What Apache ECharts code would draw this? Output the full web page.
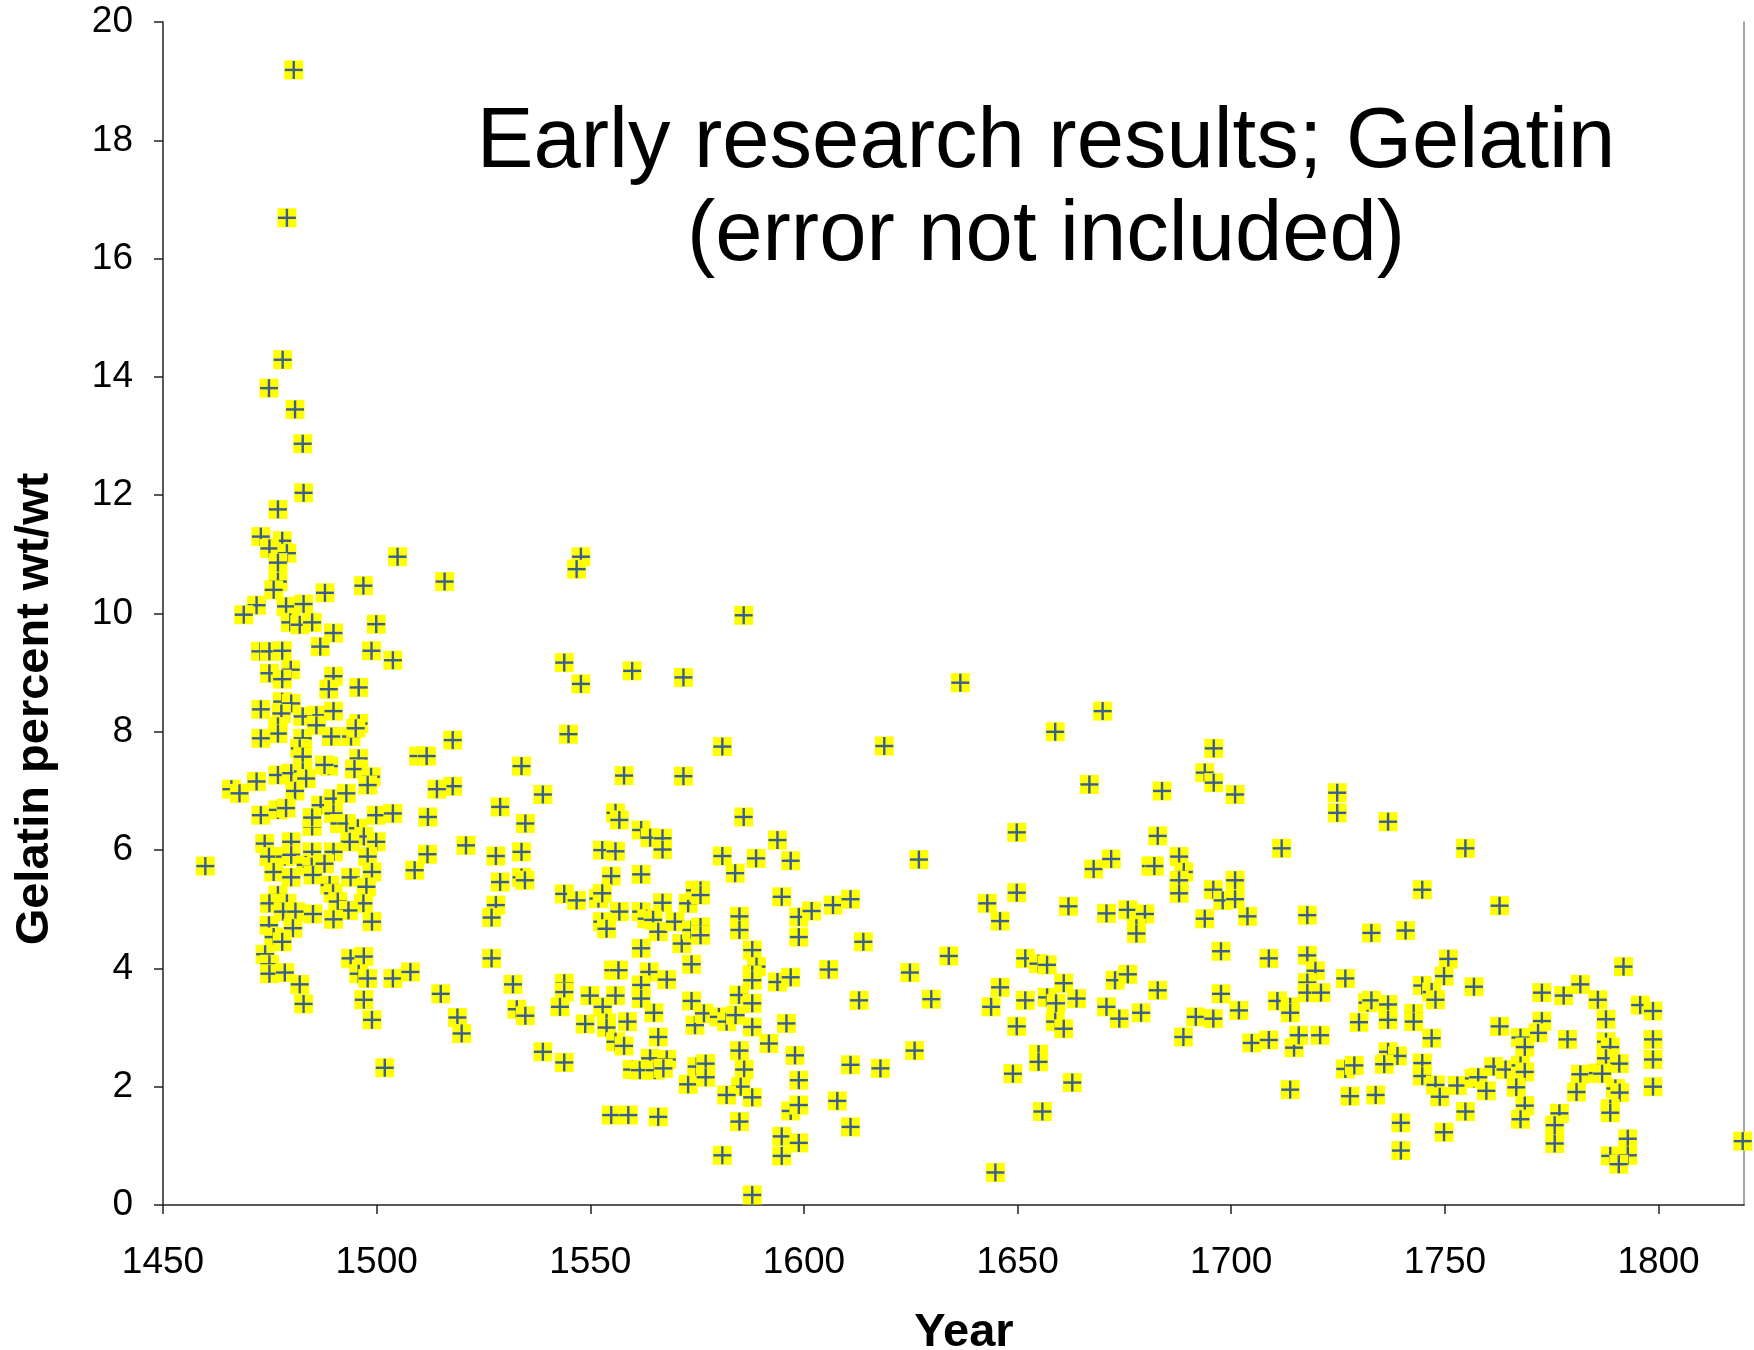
<!DOCTYPE html>
<html>
<head>
<meta charset="utf-8">
<script src="https://cdn.jsdelivr.net/npm/echarts@6/dist/echarts.min.js"></script>
<style>html,body{margin:0;padding:0;background:#fff}#c{width:1754px;height:1350px}</style>
</head>
<body>
<div id="c"></div>
<script>
const xTicks = [1450, 1500, 1550, 1600, 1650, 1700, 1750, 1800];
const yTicks = [0, 2, 4, 6, 8, 10, 12, 14, 16, 18, 20];
const chartTitle = ['Early research results; Gelatin', '(error not included)'];
const xTitle = 'Year';
const yTitle = 'Gelatin percent wt/wt';

const years = [
1480.6,1479.0,1478.0,1474.8,1480.9,1482.7,
1482.9,1476.9,1472.9,1477.9,1474.9,1479.0,1476.9,1504.9,1476.9,1475.9,1487.9,1496.9,1471.9,1468.9,
1478.8,1482.9,1479.8,1482.0,1484.9,1489.9,1499.9,1486.8,1472.8,1474.9,1477.9,1498.8,1503.8,1474.9,
1479.9,1477.9,1489.9,1488.8,1495.8,1472.9,1477.9,1480.0,1477.7,1485.9,1489.9,1482.7,1476.9,1476.9,
1495.8,1485.9,1472.9,1489.4,1494.0,1495.1,1482.7,1482.0,1482.7,1495.8,1509.8,1511.7,1488.8,1487.8,
1494.8,1476.9,1480.0,1482.7,1483.5,1498.7,1497.9,1471.9,1466.0,1467.9,1480.9,1486.9,1489.9,1492.9,
1489.9,1472.9,1476.9,1478.8,1484.9,1484.9,1491.3,1492.9,1495.6,1499.9,1503.8,1512.0,1497.0,1499.9,
1493.7,1473.8,1480.0,
1484.9,1489.9,1459.9,1474.8,1478.5,1480.0,1483.4,1484.8,1487.8,1497.9,1498.9,1475.9,1480.0,1485.1,
1493.9,1508.9,1511.9,1489.0,1497.6,1476.9,1489.8,1474.9,1479.0,1496.9,1490.9,1478.1,1481.0,1485.1,
1493.4,1489.9,1498.9,1474.8,1480.4,1475.9,1477.9,1473.9,1474.9,1474.9,1478.5,1482.0,1482.9,1493.9,
1497.0,1495.8,1497.9,1503.8,1507.9,1497.0,1498.9,1501.9,
1547.8,1546.8,1515.9,1543.9,1547.8,1559.8,1571.8,1544.9,1517.8,1533.9,1557.9,1571.8,1517.8,1514.1,
1538.9,1528.9,1555.9,1556.8,1534.8,1561.9,1564.0,1566.9,1520.9,
1527.9,1533.9,1552.8,1555.9,1566.9,1528.9,1533.9,1534.7,1554.9,1561.9,1543.9,1546.8,1551.9,1552.8,
1556.8,1566.9,1572.9,1574.5,1527.9,1526.9,1552.8,1553.8,1561.9,1563.2,1564.7,1565.9,1569.8,1571.4,
1573.7,1561.9,1526.9,1515.0,1531.9,1543.9,1543.9,1555.4,1556.6,1563.8,1567.9,1573.7,1549.9,1555.9,
1561.9,1561.9,1573.7,1518.9,1519.9,1532.8,1534.8,1542.9,1552.9,1548.8,1553.8,1553.8,1558.7,1564.9,
1574.5,1555.9,1557.9,1565.9,1538.9,1543.9,1559.8,1561.6,1564.0,1565.1,1567.9,1567.1,1572.9,1574.9,
1554.9,1558.9,1565.9,
1585.9,1580.9,1618.8,1636.6,1585.9,1593.8,
1580.9,1583.9,1588.8,1596.9,1626.9,1575.8,1575.8,1594.8,1598.8,1601.8,1606.8,1610.9,1584.9,1584.9,
1598.8,1613.9,1633.9,1575.8,1575.8,1587.9,1588.9,1587.9,1587.9,1593.8,1596.9,1605.8,1624.8,1584.8,
1587.9,1612.9,1629.8,1576.6,1580.1,1581.9,1584.0,1587.9,1595.9,1591.8,1584.9,1597.9,1586.0,1577.0,
1577.0,1610.9,1617.9,1625.9,1598.8,1585.2,1581.9,1587.9,1596.9,1598.8,1607.8,1584.9,1610.9,1594.8,
1598.8,1580.9,1594.8,1587.9,
1669.9,1658.8,1695.9,1693.8,1695.9,1666.8,1683.8,1649.8,1682.8,
1667.8,1671.9,1681.2,1682.0,1687.8,1688.9,1687.8,1687.8,1695.8,1698.0,1649.8,1642.9,1645.9,1661.9,
1670.8,1675.8,1679.8,1677.8,1677.8,1693.8,1697.6,1651.8,1654.9,1656.9,1660.8,1645.9,1643.8,1651.8,
1656.9,1659.0,1663.8,1672.8,1675.8,1682.8,1670.8,1673.8,1678.9,1691.7,1695.8,1697.6,1688.8,1658.8,
1660.8,1649.8,1654.9,1654.9,1648.9,1662.8,1655.8,1644.8,
1700.9,1724.8,1724.8,1736.7,1711.8,1754.8,
1700.9,1700.9,1703.8,1717.8,1744.7,1732.8,1740.8,1708.8,1717.8,1719.7,1726.7,1750.8,1749.8,1756.8,
1717.8,1717.8,1721.0,1744.7,1746.9,1747.8,1701.8,1710.8,1713.8,1713.8,1731.9,1732.8,1736.7,1736.7,
1742.7,1742.7,1729.9,1746.9,1704.8,1708.8,1714.7,1715.8,1720.8,1736.7,1738.9,1726.7,1728.8,1735.8,
1744.7,1744.7,1747.8,1748.8,1752.9,1756.8,1757.8,1759.7,1713.8,1727.8,1733.8,1754.8,1739.7,1749.8,
1739.7,
1762.8,1791.8,1772.7,1777.8,1781.7,1785.8,1795.7,1798.7,1787.7,1762.8,1772.7,1771.8,1767.7,1768.7,
1778.7,1787.7,1788.7,1798.7,1787.7,1790.8,1798.7,1761.4,1764.2,1767.7,1768.7,1781.7,1785.8,1786.8,
1766.7,1780.8,1789.9,1790.9,1798.7,1768.7,1767.7,1776.8,1788.7,1788.7,1775.7,1775.7,1792.8,1788.7,
1792.8,1790.7,1819.7
];

const gelatin = [
19.19,16.69,14.29,13.81,13.45,12.87,
12.04,11.76,11.30,11.23,11.10,11.02,10.86,10.96,10.54,10.40,10.35,10.47,10.14,9.98,
10.12,10.16,9.85,9.81,9.85,9.67,9.82,9.44,9.36,9.36,9.37,9.37,9.21,8.99,
9.05,8.89,8.94,8.72,8.75,8.38,8.51,8.48,8.31,8.28,8.35,8.26,8.09,7.97,
8.14,8.11,7.89,7.92,7.92,8.06,7.89,7.72,7.58,7.55,7.59,7.59,7.42,7.44,
7.37,7.27,7.30,7.33,7.21,7.24,7.10,7.16,7.03,6.96,7.00,6.76,6.87,6.96,
6.62,6.59,6.68,6.71,6.40,6.55,6.45,6.45,6.37,6.59,6.62,6.56,6.23,6.14,
6.14,6.11,6.14,
5.97,5.97,5.73,5.89,5.89,5.92,5.75,5.72,5.77,5.89,5.63,5.63,5.54,5.58,
5.54,5.66,5.93,5.41,5.38,5.24,5.27,5.10,5.10,5.10,5.13,4.96,4.96,4.92,
4.98,4.83,4.79,4.73,4.68,4.53,4.45,4.24,4.07,3.91,3.93,3.73,3.40,4.17,
4.20,3.91,3.83,3.83,3.94,3.47,3.13,2.32,
10.96,10.75,10.54,9.17,8.81,9.03,8.92,7.96,7.86,7.42,7.26,7.25,7.08,7.03,
6.94,6.73,6.63,6.51,6.45,6.34,6.21,6.20,6.08,
5.90,5.97,6.00,5.98,6.01,5.46,5.54,5.49,5.56,5.59,5.26,5.15,5.18,5.27,
4.96,5.11,5.10,5.32,5.07,4.86,4.79,4.67,4.96,4.84,4.82,4.62,4.79,4.42,
4.65,4.34,4.17,3.57,3.73,3.75,3.60,3.97,3.97,3.94,3.81,4.07,3.54,3.54,
3.72,3.49,3.45,3.17,2.90,3.31,3.20,3.35,3.35,3.06,3.08,3.00,3.10,3.25,
3.04,2.76,2.69,2.84,2.59,2.41,2.29,2.28,2.48,2.28,2.46,2.31,2.04,2.34,
1.52,1.52,1.49,
9.97,7.75,7.76,8.83,6.56,6.17,
5.90,5.61,5.86,5.82,5.84,5.32,5.24,5.21,4.87,4.97,5.07,5.17,4.88,4.65,
4.53,4.45,4.21,4.70,4.56,4.31,4.03,3.89,3.80,3.77,3.85,3.98,3.93,3.55,
3.41,3.46,3.48,3.24,3.18,3.10,3.21,3.01,3.07,2.73,2.61,2.53,2.29,2.39,
2.16,2.37,2.31,2.61,2.11,2.00,1.86,1.82,1.59,1.69,1.76,1.41,1.32,1.16,
1.05,0.84,0.83,0.17,
8.35,8.00,7.72,7.31,7.14,7.11,7.00,6.30,6.24,
5.68,5.85,5.73,5.73,5.89,5.63,5.49,5.27,5.33,5.15,5.28,5.10,4.80,5.05,
4.93,4.99,4.92,4.68,4.59,4.84,4.29,4.17,4.08,4.06,3.75,3.68,3.35,3.46,
3.51,3.41,3.49,3.80,3.90,3.63,3.35,3.15,3.25,3.18,3.15,3.57,2.84,3.10,
2.98,3.02,2.55,2.42,2.22,2.07,1.58,0.55,
6.94,6.97,6.63,6.48,6.03,6.03,
5.49,5.17,4.88,4.90,5.33,4.60,4.64,4.17,4.22,3.96,3.83,4.16,3.87,3.69,
3.76,3.59,3.59,3.71,3.60,3.47,3.29,3.45,3.35,3.25,3.42,3.46,3.39,3.13,
3.24,3.10,3.09,2.82,2.74,2.79,2.66,2.87,2.87,2.59,2.52,2.30,2.36,2.38,
2.40,2.18,2.03,1.83,2.02,2.14,2.16,1.93,1.95,1.84,1.86,1.58,1.39,1.23,
0.92,
5.06,4.03,3.59,3.54,3.73,3.47,3.38,3.28,3.14,3.02,3.11,2.91,2.83,2.67,
2.80,2.76,2.67,2.80,2.48,2.39,2.46,2.34,2.29,2.36,2.25,2.21,2.23,2.22,
1.99,1.91,1.97,1.90,2.00,1.68,1.45,1.55,1.63,1.56,1.35,1.04,1.12,0.83,
0.84,0.69,1.08
];

const points = years.map((y, i) => [y, gelatin[i]]);
const FONT = '"Liberation Sans", Arial, sans-serif';

const chart = echarts.init(document.getElementById('c'), null, {renderer: 'canvas'});
chart.setOption({
  animation: false,
  backgroundColor: '#ffffff',
  grid: {left: 163, top: 22, right: 10, bottom: 145, containLabel: false},
  xAxis: {
    type: 'value', min: xTicks[0], max: 1820, interval: 50,
    axisLine: {show: true, lineStyle: {color: '#222', width: 1.5}},
    axisTick: {show: true, inside: false, length: 9, customValues: xTicks, lineStyle: {color: '#222', width: 1.5}},
    axisLabel: {show: true, fontSize: 37, fontFamily: FONT, color: '#000', margin: 39, customValues: xTicks,
      formatter: v => xTicks.indexOf(v) >= 0 ? String(v) : ''},
    splitLine: {show: false}
  },
  yAxis: [{
    type: 'value', min: yTicks[0], max: yTicks[yTicks.length - 1], interval: 2,
    axisLine: {show: true, lineStyle: {color: '#222', width: 1.5}},
    axisTick: {show: true, inside: false, length: 9, lineStyle: {color: '#222', width: 1.5}},
    axisLabel: {show: true, fontSize: 37, fontFamily: FONT, color: '#000', margin: 30},
    splitLine: {show: false}
  }, {
    type: 'value', position: 'right', min: 0, max: 20,
    axisLine: {show: true, lineStyle: {color: '#888', width: 1.5}},
    axisTick: {show: false}, axisLabel: {show: false}, splitLine: {show: false}
  }],
  series: [{
    type: 'custom',
    data: points,
    clip: false,
    renderItem: function (params, api) {
      const p = api.coord([api.value(0), api.value(1)]);
      const h = 9.5;
      return {
        type: 'group',
        children: [
          {type: 'rect', shape: {x: p[0] - h, y: p[1] - h, width: 2 * h, height: 2 * h}, style: {fill: '#ffff00'}},
          {type: 'rect', shape: {x: p[0] - 1.2, y: p[1] - 9, width: 2.4, height: 18}, style: {fill: '#3b5e8e'}},
          {type: 'rect', shape: {x: p[0] - 9, y: p[1] - 1.2, width: 18, height: 2.4}, style: {fill: '#3b5e8e'}}
        ]
      };
    }
  }],
  graphic: [
    {type: 'text', style: {text: chartTitle[0], font: '85px ' + FONT, fill: '#000', textAlign: 'center', textVerticalAlign: 'middle', x: 0, y: 0}, x: 1046, y: 144},
    {type: 'text', style: {text: chartTitle[1], font: '85px ' + FONT, fill: '#000', textAlign: 'center', textVerticalAlign: 'middle', x: 0, y: 0}, x: 1046, y: 237},
    {type: 'text', style: {text: xTitle, font: 'bold 47px ' + FONT, fill: '#000', textAlign: 'center', textVerticalAlign: 'middle', x: 0, y: 0}, x: 964, y: 1333},
    {type: 'text', style: {text: yTitle, font: 'bold 47px ' + FONT, fill: '#000', textAlign: 'center', textVerticalAlign: 'middle', x: 0, y: 0}, x: 35, y: 709, rotation: Math.PI / 2}
  ]
});
</script>
</body>
</html>
